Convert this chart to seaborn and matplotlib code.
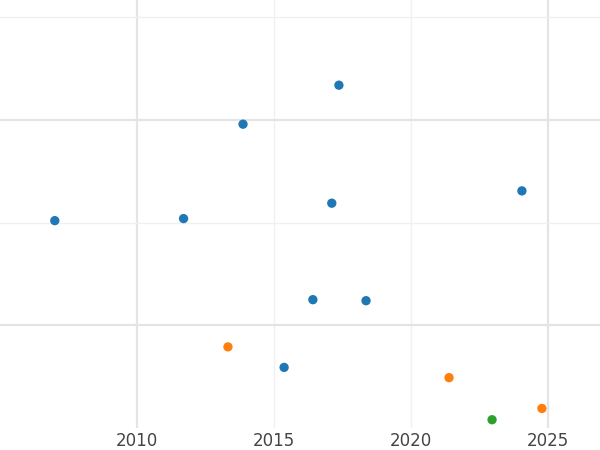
import matplotlib
matplotlib.use("Agg")
import matplotlib.pyplot as plt
import seaborn as sns
import pandas as pd

years = [2007.0, 2011.7, 2013.87, 2017.37, 2017.11, 2024.05, 2016.42, 2018.36, 2015.37,
         2013.32, 2021.39, 2024.78, 2022.96]
values = [1.02, 1.04, 1.96, 2.34, 1.19, 1.31, 0.25, 0.24, -0.41,
          -0.21, -0.51, -0.81, -0.92]
groups = ["A"] * 9 + ["B"] * 3 + ["C"]
palette = {"A": "#1f77b4", "B": "#ff7f0e", "C": "#2ca02c"}

df = pd.DataFrame({"year": years, "value": values, "group": groups})

sns.set_style("white")
fig = plt.figure(figsize=(6, 4.5), dpi=100)
ax = fig.add_axes([0, 0.049, 1, 0.951])
sns.scatterplot(data=df, x="year", y="value", hue="group", palette=palette,
                s=45, edgecolor="none", legend=False, ax=ax, zorder=3)
ax.set_xlim(2005.0, 2026.9)
ax.set_ylim(-1.0, 3.17)
ax.set_xticks([2010, 2015, 2020, 2025])
ax.set_yticks([0, 1, 2, 3])
ax.set_yticklabels([])
for x in [2010, 2025]:
    ax.axvline(x, color="#e4e4e4", lw=1.6, zorder=0)
for x in [2015, 2020]:
    ax.axvline(x, color="#f0f0f0", lw=1, zorder=0)
for y in [0, 2]:
    ax.axhline(y, color="#e4e4e4", lw=1.6, zorder=0)
for y in [1, 3]:
    ax.axhline(y, color="#f0f0f0", lw=1, zorder=0)
ax.tick_params(axis="x", length=0, labelsize=12, labelcolor="#444444", pad=3)
ax.tick_params(axis="y", length=0)
ax.set_xlabel("")
ax.set_ylabel("")
for s in ax.spines.values():
    s.set_visible(False)
fig.savefig("out.png", dpi=100)
